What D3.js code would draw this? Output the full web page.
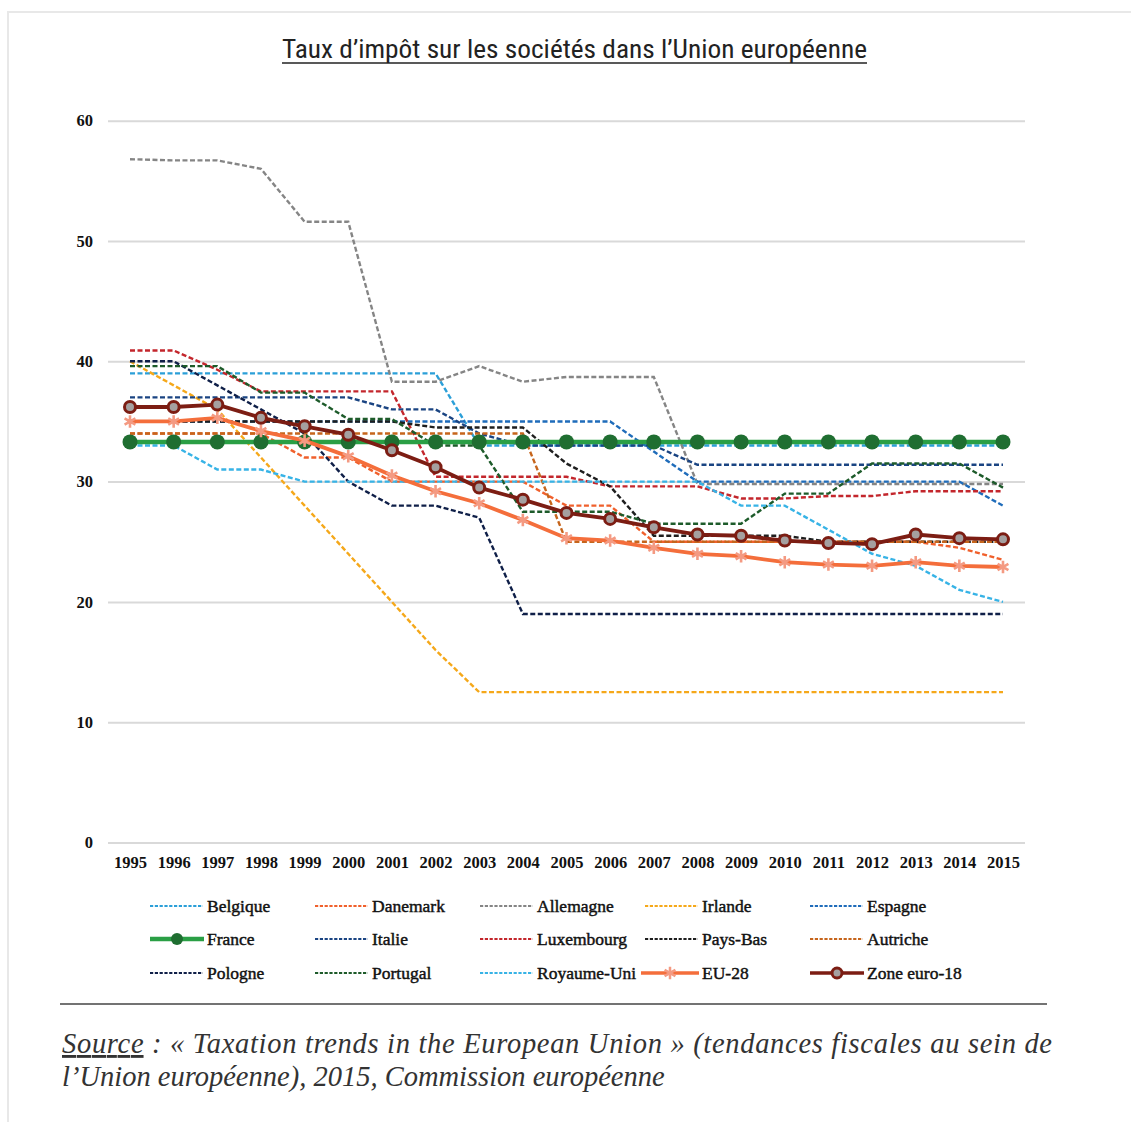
<!DOCTYPE html>
<html><head><meta charset="utf-8">
<script src="https://cdn.jsdelivr.net/npm/d3@7"></script>
<style>html,body{margin:0;padding:0;background:#fff;}</style>
</head><body>
<svg id="c" width="1131" height="1122"></svg>
<script>
const years = [1995,1996,1997,1998,1999,2000,2001,2002,2003,2004,2005,2006,2007,2008,2009,2010,2011,2012,2013,2014,2015];
const yTicks = [0,10,20,30,40,50,60];

const belgique   = [39,39,39,39,39,39,39,39,33,33,33,33,33,33,33,33,33,33,33,33,33];
const danemark   = [34,34,34,34,32,32,30,30,30,30,28,28,25,25,25,25,25,25,25,24.5,23.5];
const allemagne  = [56.8,56.7,56.7,56.0,51.6,51.6,38.3,38.3,39.6,38.3,38.7,38.7,38.7,29.8,29.8,29.8,29.8,29.8,29.8,29.8,29.8];
const irlande    = [40,38,36,32,28,24,20,16,12.5,12.5,12.5,12.5,12.5,12.5,12.5,12.5,12.5,12.5,12.5,12.5,12.5];
const espagne    = [35,35,35,35,35,35,35,35,35,35,35,35,32.5,30,30,30,30,30,30,30,28];
const france     = [33.3,33.3,33.3,33.3,33.3,33.3,33.3,33.3,33.3,33.3,33.3,33.3,33.3,33.3,33.3,33.3,33.3,33.3,33.3,33.3,33.3];
const italie     = [37,37,37,37,37,37,36,36,34,33,33,33,33,31.4,31.4,31.4,31.4,31.4,31.4,31.4,31.4];
const luxembourg = [40.9,40.9,39.3,37.5,37.5,37.5,37.5,30.4,30.4,30.4,30.4,29.6,29.6,29.6,28.6,28.6,28.8,28.8,29.2,29.2,29.2];
const paysBas    = [35,35,35,35,35,35,35,34.5,34.5,34.5,31.5,29.6,25.5,25.5,25.5,25.5,25,25,25,25,25];
const autriche   = [34,34,34,34,34,34,34,34,34,34,25,25,25,25,25,25,25,25,25,25,25];
const pologne    = [40,40,38,36,34,30,28,28,27,19,19,19,19,19,19,19,19,19,19,19,19];
const portugal   = [39.6,39.6,39.6,37.4,37.4,35.2,35.2,33,33,27.5,27.5,27.5,26.5,26.5,26.5,29,29,31.5,31.5,31.5,29.5];
const royaumeUni = [33,33,31,31,30,30,30,30,30,30,30,30,30,30,28,28,26,24,23,21,20];
const eu28       = [35.0,35.0,35.3,34.2,33.4,32.1,30.5,29.2,28.2,26.8,25.3,25.1,24.5,24.0,23.8,23.3,23.1,23.0,23.3,23.0,22.9];
const zoneEuro   = [36.2,36.2,36.4,35.3,34.6,33.9,32.6,31.2,29.5,28.5,27.4,26.9,26.2,25.6,25.5,25.1,24.9,24.8,25.6,25.3,25.2];

const series = [
  {name:"Belgique", values:belgique, color:"#2b9fd8", type:"dash"},
  {name:"Danemark", values:danemark, color:"#f0602c", type:"dash"},
  {name:"Allemagne", values:allemagne, color:"#858585", type:"dash"},
  {name:"Irlande", values:irlande, color:"#f5a81a", type:"dash"},
  {name:"Espagne", values:espagne, color:"#1f6cba", type:"dash"},
  {name:"France", values:france, color:"#2a9f45", type:"france"},
  {name:"Italie", values:italie, color:"#1a4482", type:"dash"},
  {name:"Luxembourg", values:luxembourg, color:"#c3262c", type:"dash"},
  {name:"Pays-Bas", values:paysBas, color:"#1e1e1e", type:"dash"},
  {name:"Autriche", values:autriche, color:"#c6651c", type:"dash"},
  {name:"Pologne", values:pologne, color:"#0f1f48", type:"dash"},
  {name:"Portugal", values:portugal, color:"#1d5b2a", type:"dash"},
  {name:"Royaume-Uni", values:royaumeUni, color:"#37b3e6", type:"dash"},
  {name:"EU-28", values:eu28, color:"#f46e3b", type:"eu"},
  {name:"Zone euro-18", values:zoneEuro, color:"#7c1d13", type:"euro"}
];

const svg = d3.select("#c");
svg.append("rect").attr("x",8).attr("y",12).attr("width",1140).attr("height",1130)
  .attr("fill","#fff").attr("stroke","#e8e8e8").attr("stroke-width",2);

const titleText = "Taux d\u2019imp\u00f4t sur les soci\u00e9t\u00e9s dans l\u2019Union europ\u00e9enne";
svg.append("text").attr("x",282).attr("y",58)
  .attr("textLength",585).attr("lengthAdjust","spacingAndGlyphs")
  .style("font-family","'Liberation Sans Narrow','Roboto Condensed','Arial Narrow',Roboto,sans-serif")
  .style("font-size","26px").attr("fill","#222").text(titleText);
svg.append("line").attr("x1",282).attr("x2",867).attr("y1",63).attr("y2",63)
  .attr("stroke","#222").attr("stroke-width",1.5);

const x = d3.scaleLinear().domain([1995,2015]).range([130,1003]);
const y = d3.scaleLinear().domain([0,60]).range([842.5,120.7]);

const gy = svg.append("g").attr("transform","translate(108,0)")
  .call(d3.axisLeft(y).tickValues(yTicks).tickSize(-917).tickPadding(15).tickFormat(d3.format("d")));
gy.select(".domain").remove();
gy.selectAll(".tick line").attr("stroke","#d9d9d9").attr("stroke-width",2);
gy.selectAll(".tick text").style("font-family","'Liberation Serif','Times New Roman',serif")
  .style("font-size","16.5px").style("font-weight","bold").attr("fill","#111");

const gx = svg.append("g").attr("transform","translate(0,842.5)")
  .call(d3.axisBottom(x).tickValues(years).tickSize(0).tickPadding(14).tickFormat(d3.format("d")));
gx.select(".domain").remove();
gx.selectAll(".tick text").style("font-family","'Liberation Serif','Times New Roman',serif")
  .style("font-size","16.5px").style("font-weight","bold").attr("fill","#111");

const line = d3.line().x((d,i)=>x(years[i])).y(d=>y(d));
const plot = svg.append("g");

function drawSeries(s){
  if(s.type==="dash"){
    plot.append("path").datum(s.values).attr("d",line).attr("fill","none")
      .attr("stroke",s.color).attr("stroke-width",2.4).attr("stroke-dasharray","5,2.5");
  } else if(s.type==="france"){
    plot.append("path").datum(s.values).attr("d",line).attr("fill","none")
      .attr("stroke",s.color).attr("stroke-width",4.5);
    plot.selectAll(null).data(s.values).enter().append("circle")
      .attr("cx",(d,i)=>x(years[i])).attr("cy",d=>y(d)).attr("r",7.5).attr("fill","#1f6e31");
  } else if(s.type==="eu"){
    plot.append("path").datum(s.values).attr("d",line).attr("fill","none")
      .attr("stroke",s.color).attr("stroke-width",3.8);
    plot.selectAll(null).data(s.values).enter().append("path")
      .attr("d",d3.symbol().type(d3.symbolAsterisk).size(110))
      .attr("transform",(d,i)=>`translate(${x(years[i])},${y(d)})`)
      .attr("fill","none").attr("stroke","#f49a82").attr("stroke-width",2.6);
  } else if(s.type==="euro"){
    plot.append("path").datum(s.values).attr("d",line).attr("fill","none")
      .attr("stroke",s.color).attr("stroke-width",3.8);
    plot.selectAll(null).data(s.values).enter().append("circle")
      .attr("cx",(d,i)=>x(years[i])).attr("cy",d=>y(d)).attr("r",5.5)
      .attr("fill","#a5a0a0").attr("stroke",s.color).attr("stroke-width",3);
  }
}
series.filter(s=>s.type==="dash").forEach(drawSeries);
series.filter(s=>s.type!=="dash").forEach(drawSeries);

const colX = [150,315,480,645,810];
const rowY = [906,939,973];
const leg = svg.append("g");
series.forEach((s,i)=>{
  const cx = colX[i%5], cy = rowY[Math.floor(i/5)];
  const g = leg.append("g").attr("transform",`translate(${cx},${cy})`);
  if(s.type==="dash"){
    g.append("line").attr("x1",0).attr("x2",53).attr("stroke",s.color)
      .attr("stroke-width",2.2).attr("stroke-dasharray","3.2,1.6");
  } else if(s.type==="france"){
    g.append("line").attr("x1",0).attr("x2",54).attr("stroke",s.color).attr("stroke-width",4.5);
    g.append("circle").attr("cx",27).attr("r",6).attr("fill","#1f6e31");
  } else if(s.type==="eu"){
    g.append("line").attr("x1",-4).attr("x2",54).attr("stroke",s.color).attr("stroke-width",3.5);
    g.append("path").attr("d",d3.symbol().type(d3.symbolAsterisk).size(110)).attr("transform","translate(25,0)")
      .attr("fill","none").attr("stroke","#f49a82").attr("stroke-width",2.5);
  } else {
    g.append("line").attr("x1",0).attr("x2",54).attr("stroke",s.color).attr("stroke-width",3.5);
    g.append("circle").attr("cx",27).attr("r",5).attr("fill","#a5a0a0").attr("stroke",s.color).attr("stroke-width",3);
  }
  g.append("text").attr("x",57).attr("y",6)
    .style("font-family","'Liberation Serif','Times New Roman',serif")
    .style("font-size","17.5px").attr("fill","#111")
    .attr("stroke","#111").attr("stroke-width",0.45).text(s.name);
});

svg.append("line").attr("x1",60).attr("x2",1047).attr("y1",1004).attr("y2",1004)
  .attr("stroke","#444").attr("stroke-width",1.3);

const src = svg.append("g").style("font-family","'Liberation Serif','Times New Roman',serif")
  .style("font-style","italic").style("font-size","28.5px").attr("fill","#333");
const t1 = src.append("text").attr("x",62).attr("y",1053).attr("textLength",990).attr("lengthAdjust","spacing");
t1.append("tspan").style("text-decoration","underline").text("Source");
t1.append("tspan").text(" : \u00ab Taxation trends in the European Union \u00bb (tendances fiscales au sein de");
src.append("text").attr("x",62).attr("y",1086).text("l\u2019Union europ\u00e9enne), 2015, Commission europ\u00e9enne");
</script>
</body></html>
